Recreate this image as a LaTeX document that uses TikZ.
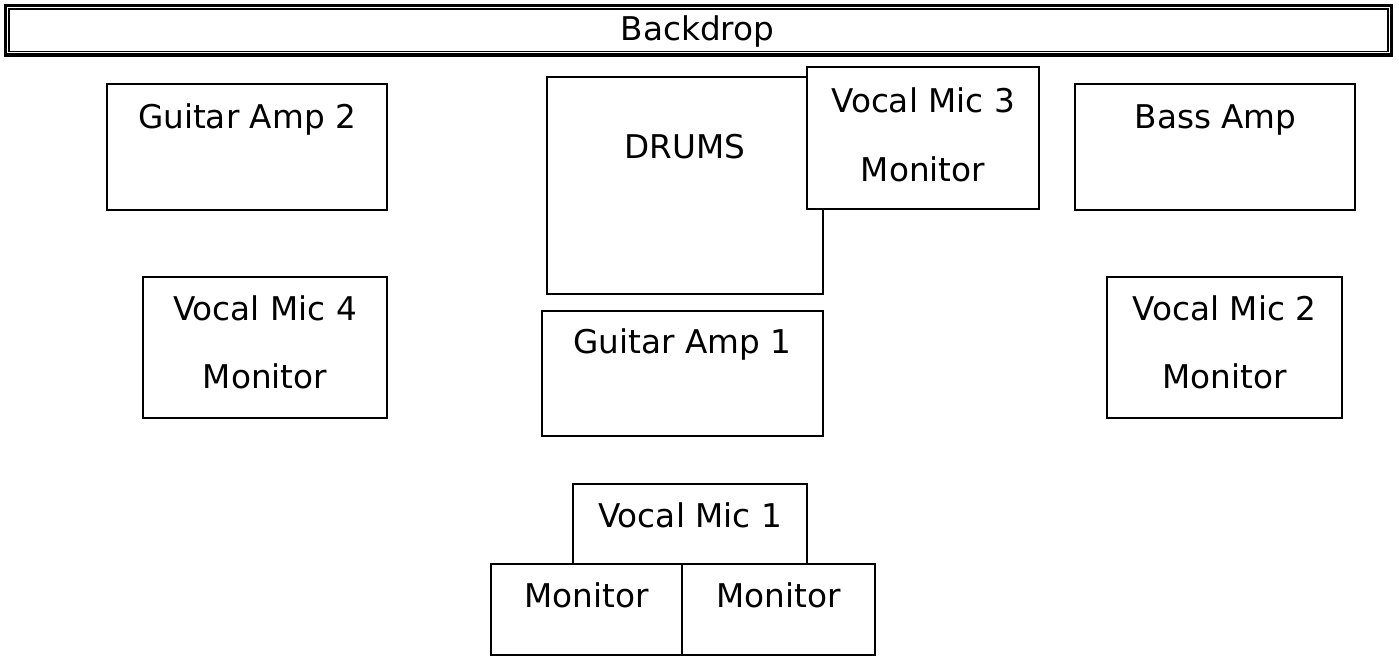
\documentclass[tikz,border=0pt]{standalone}
\usepackage{fontspec}
\setmainfont{DejaVu Sans}
\usetikzlibrary{positioning}
\tikzset{
  stagebox/.style={draw,fill=white,line width=0.036cm,inner sep=0pt,outer sep=0pt},
  boxtext/.style={anchor=base,inner sep=0pt,font=\fontsize{18.6}{22}\selectfont}
}
\begin{document}
\begin{tikzpicture}[x=0.02cm,y=-0.02cm]
  \useasboundingbox (0,0) rectangle (1399,657);
  \node[draw,line width=0.065cm,minimum width=27.72cm,minimum height=0.99cm,inner sep=0pt] (backdrop) at (698.5,30.3){};
  \node[draw,line width=0.03cm,minimum width=27.59cm,minimum height=0.85cm,inner sep=0pt] (backdropin) at (backdrop){};
  \node[boxtext] (backdropt) at (697.5,40){Backdrop};
  \node[stagebox,minimum width=5.6cm,minimum height=2.52cm] (ga2) at (247,147){};
  \node[boxtext] (ga2t) at (247,128){Guitar Amp 2};
  \node[stagebox,minimum width=5.52cm,minimum height=4.34cm] (drums) at (685,185.5){};
  \node[boxtext] (drumst) at (685,158){DRUMS};
  \node[stagebox,minimum width=4.64cm,minimum height=2.84cm] (vm3) at (923,138){};
  \node[boxtext] (vm3t) at (923,112){Vocal Mic 3};
  \node[boxtext] (vm3m) at (923,181){Monitor};
  \node[stagebox,minimum width=5.6cm,minimum height=2.52cm] (bass) at (1215,147){};
  \node[boxtext] (basst) at (1215.5,128){Bass Amp};
  \node[stagebox,minimum width=4.88cm,minimum height=2.82cm] (vm4) at (265,347.5){};
  \node[boxtext] (vm4t) at (265,320){Vocal Mic 4};
  \node[boxtext] (vm4m) at (265,388){Monitor};
  \node[stagebox,minimum width=5.62cm,minimum height=2.5cm] (ga1) at (682.5,373.5){};
  \node[boxtext] (ga1t) at (682.5,353){Guitar Amp 1};
  \node[stagebox,minimum width=4.7cm,minimum height=2.82cm] (vm2) at (1224.5,347.5){};
  \node[boxtext] (vm2t) at (1224.5,320){Vocal Mic 2};
  \node[boxtext] (vm2m) at (1224.5,388){Monitor};
  \node[stagebox,minimum width=4.68cm,minimum height=1.6cm] (vm1) at (690,524){};
  \node[boxtext] (vm1t) at (690,527){Vocal Mic 1};
  \node[stagebox,minimum width=3.82cm,minimum height=1.82cm] (monl) at (586.5,609.5){};
  \node[stagebox,minimum width=3.86cm,minimum height=1.82cm,right=0cm of monl] (monr){};
  \node[boxtext] (monlt) at (586.5,607){Monitor};
  \node[boxtext] (monrt) at (monr.center|-monlt.base){Monitor};
\end{tikzpicture}
\end{document}
